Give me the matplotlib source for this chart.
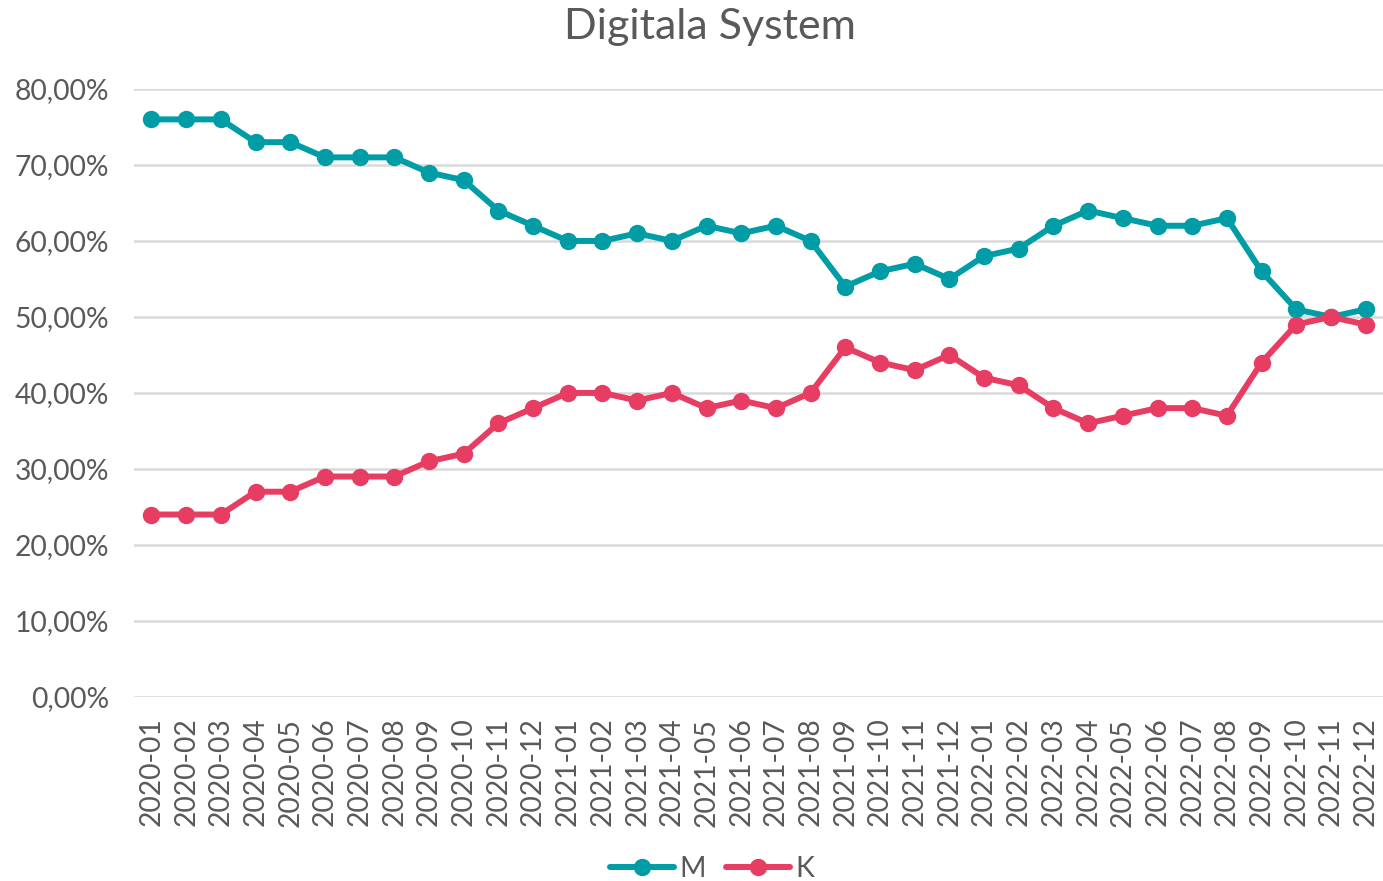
import matplotlib
matplotlib.use("Agg")
import matplotlib.pyplot as plt
from matplotlib.ticker import FuncFormatter

plt.rcParams['font.family'] = ['Lato', 'DejaVu Sans']

months = [f"{y}-{m:02d}" for y in (2020, 2021, 2022) for m in range(1, 13)]
m_vals = [76, 76, 76, 73, 73, 71, 71, 71, 69, 68, 64, 62,
          60, 60, 61, 60, 62, 61, 62, 60, 54, 56, 57, 55,
          58, 59, 62, 64, 63, 62, 62, 63, 56, 51, 50, 51]
k_vals = [24, 24, 24, 27, 27, 29, 29, 29, 31, 32, 36, 38,
          40, 40, 39, 40, 38, 39, 38, 40, 46, 44, 43, 45,
          42, 41, 38, 36, 37, 38, 38, 37, 44, 49, 50, 49]
series_names = ["M", "K"]
colors = ["#009DA6", "#E83D63"]
text_color = "#595959"

fig = plt.figure(figsize=(13.83, 8.81), dpi=100)
ax = fig.add_axes([0.097, 0.209, 0.903, 0.690])

x = list(range(len(months)))
for vals, name, c in zip([m_vals, k_vals], series_names, colors):
    ax.plot(x, vals, color=c, lw=4.3, marker='o', ms=11.5, label=name,
            solid_capstyle='round', solid_joinstyle='round')

ax.set_ylim(0, 80)
ax.set_xlim(-0.5, len(months) - 0.5)
ax.set_yticks(range(0, 81, 10))
ax.yaxis.set_major_formatter(FuncFormatter(lambda v, p: f"{v:.2f}".replace('.', ',') + "%"))
ax.set_xticks(x)
ax.set_xticklabels(months, rotation=90)
ax.grid(axis='y', color='#D9D9D9', lw=1.8)
ax.set_axisbelow(True)
for s in ax.spines.values():
    s.set_visible(False)
ax.tick_params(axis='both', length=0, labelsize=20.3, colors=text_color)
ax.tick_params(axis='y', pad=18)
ax.tick_params(axis='x', pad=15)

fig.text(0.513, 0.969, "Digitala System", fontsize=31, color=text_color,
         ha='center', va='center')
fig.legend(loc='center', bbox_to_anchor=(0.515, 0.0135), ncol=2, frameon=False,
           fontsize=20.5, labelcolor=text_color, handlelength=2.25, handletextpad=0.2,
           columnspacing=0.7, borderpad=0)

fig.savefig("out.png", dpi=100)
